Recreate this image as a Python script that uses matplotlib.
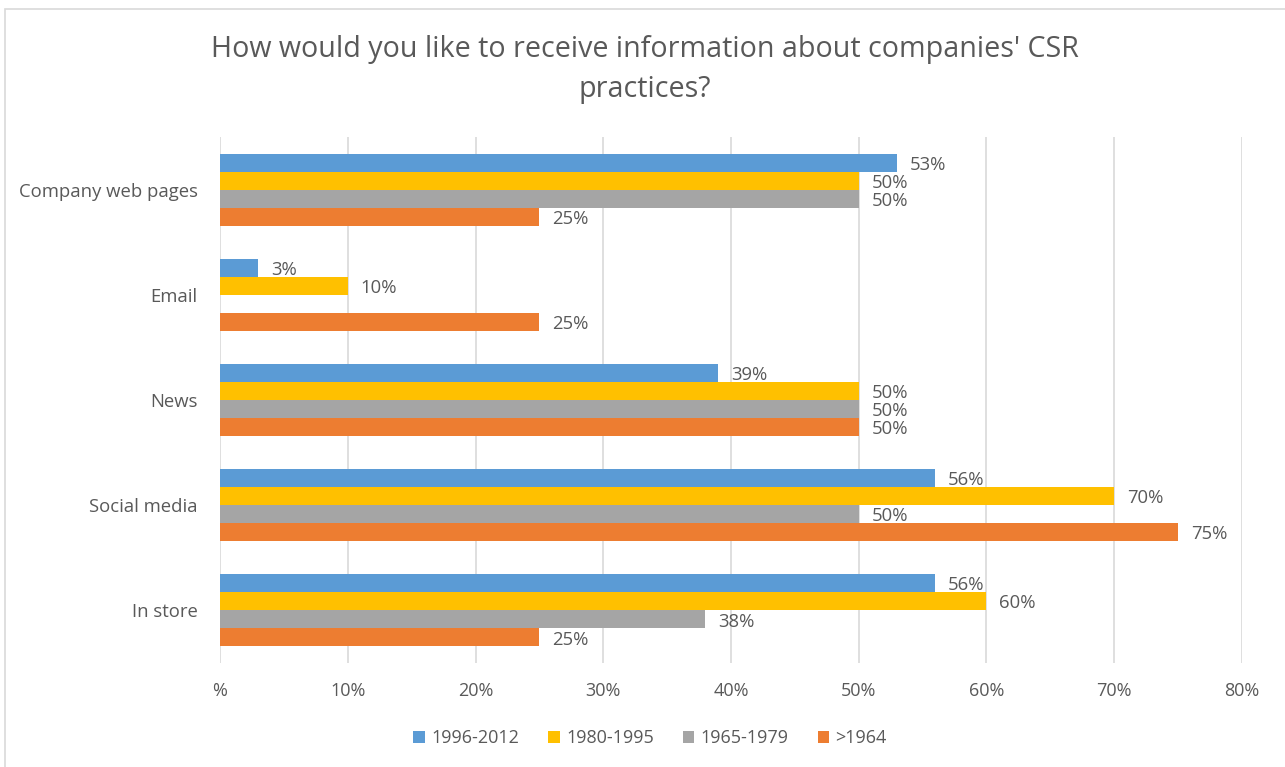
import matplotlib
matplotlib.use("Agg")
import matplotlib.pyplot as plt
from matplotlib.patches import Rectangle
import numpy as np

categories = ["Company web pages", "Email", "News", "Social media", "In store"]
series_names = ["1996-2012", "1980-1995", "1965-1979", ">1964"]
colors = ["#5B9BD5", "#FFC000", "#A5A5A5", "#ED7D31"]
v_1996_2012 = [53, 3, 39, 56, 56]
v_1980_1995 = [50, 10, 50, 70, 60]
v_1965_1979 = [50, 0, 50, 50, 38]
v_before_1964 = [25, 25, 50, 75, 25]
series_values = [v_1996_2012, v_1980_1995, v_1965_1979, v_before_1964]
x_ticks = [0, 10, 20, 30, 40, 50, 60, 70, 80]
x_tick_labels = ["%", "10%", "20%", "30%", "40%", "50%", "60%", "70%", "80%"]

plt.rcParams["font.family"] = ["Open Sans", "DejaVu Sans"]
text_color = "#595959"

fig = plt.figure(figsize=(12.85, 7.67), dpi=100)
ax = fig.add_axes([220 / 1285, 1 - 663 / 767, (1242 - 220) / 1285, (663 - 137) / 767])

# outer chart frame
fig.patches.append(Rectangle((5 / 1285, -0.01), 1.02, 1 - 9 / 767 + 0.01,
                             transform=fig.transFigure, fill=False,
                             edgecolor="#D9D9D9", linewidth=1.2))

bar_h = 18 / 105
n = len(series_names)
y_centers = np.arange(len(categories))
for i, (name, vals, col) in enumerate(zip(series_names, series_values, colors)):
    offs = (i - (n - 1) / 2) * bar_h
    ys = y_centers + offs
    ax.barh(ys, vals, height=bar_h, color=col, label=name, zorder=3)
    for y, v in zip(ys, vals):
        if v > 0:
            ax.text(v + 1.0, y + 0.02, f"{v}%", va="center", ha="left",
                    fontsize=13.3, color=text_color, zorder=4)

ax.set_ylim(len(categories) - 0.5, -0.5)
ax.set_xlim(0, 80)
ax.set_yticks(y_centers)
ax.set_yticklabels(categories, fontsize=13.3, color=text_color)
ax.set_xticks(x_ticks)
ax.set_xticklabels(x_tick_labels, fontsize=13, color=text_color)
ax.tick_params(axis="x", length=0, pad=14)
ax.tick_params(axis="y", length=0, pad=16)
ax.grid(axis="x", color="#D9D9D9", linewidth=1.2, zorder=0)
for s in ax.spines.values():
    s.set_visible(False)

fig.text(645 / 1285, 1 - 70 / 767,
         "How would you like to receive information about companies' CSR\npractices?",
         ha="center", va="center", fontsize=20.6, color=text_color, linespacing=1.5)

handles, labels = ax.get_legend_handles_labels()
fig.legend(handles, labels, loc="center", bbox_to_anchor=(650 / 1285, 1 - 738 / 767),
           ncol=4, frameon=False, fontsize=13, handlelength=0.65, handleheight=0.65,
           handletextpad=0.35, columnspacing=1.6, labelcolor=text_color)

fig.savefig("out.png", dpi=100)
